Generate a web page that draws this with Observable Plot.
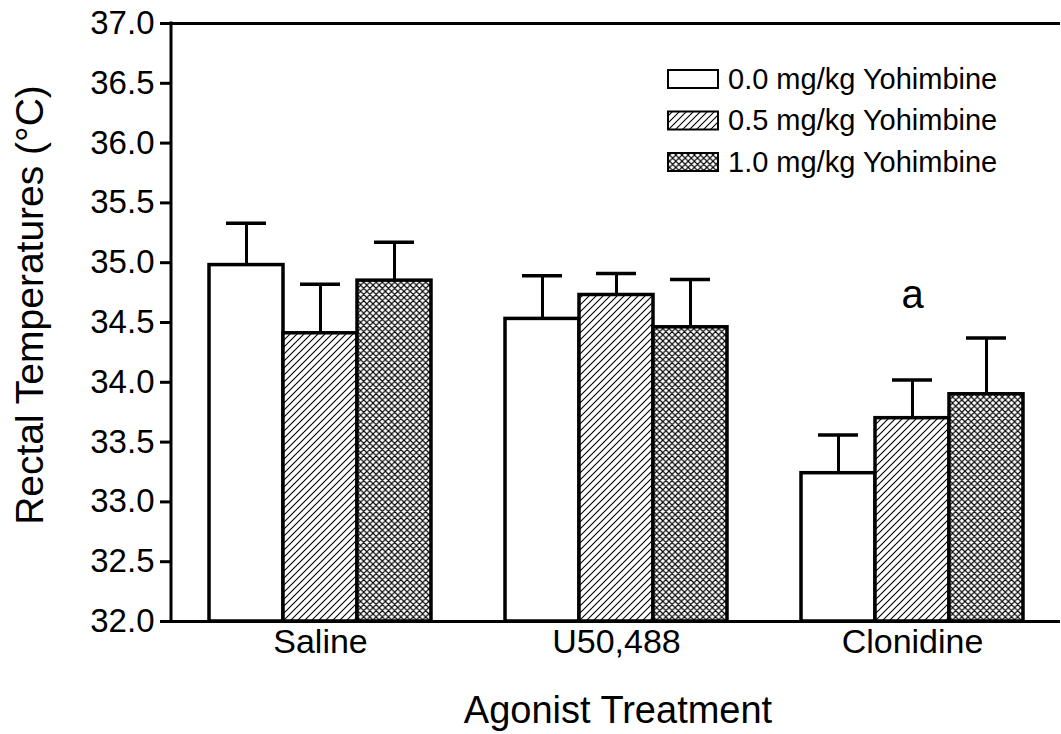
<!DOCTYPE html>
<html>
<head>
<meta charset="utf-8">
<script src="https://cdn.jsdelivr.net/npm/d3@7"></script>
<script src="https://cdn.jsdelivr.net/npm/@observablehq/plot@0.6"></script>
<style>
  html, body { margin: 0; padding: 0; background: white; }
  #chart svg text { fill: black; }
  g[aria-label="y-axis tick"], g[aria-label="y-axis tick"] path { stroke-width: 3px; }
  g[aria-label="fx-axis tick label"] { font-size: 34px; }
</style>
</head>
<body>
<div id="chart"></div>
<script>
// ---- data ----
const agonists = ["Saline", "U50,488", "Clonidine"];
const doses = ["0.0", "0.5", "1.0"];
const doseLabels = ["0.0 mg/kg Yohimbine", "0.5 mg/kg Yohimbine", "1.0 mg/kg Yohimbine"];
const salineMeans    = [34.98, 34.41, 34.85];
const u50488Means    = [34.53, 34.73, 34.46];
const clonidineMeans = [33.24, 33.70, 33.90];
const salineSE    = [0.35, 0.41, 0.32];
const u50488SE    = [0.36, 0.18, 0.40];
const clonidineSE = [0.32, 0.32, 0.47];
const yTicks = [32.0, 32.5, 33.0, 33.5, 34.0, 34.5, 35.0, 35.5, 36.0, 36.5, 37.0];
const significance = [{agonist: "Clonidine", y: 34.73, label: "a"}];

const meansByAgonist = [salineMeans, u50488Means, clonidineMeans];
const seByAgonist = [salineSE, u50488SE, clonidineSE];
const table = [];
agonists.forEach((a, i) => doses.forEach((d, j) => {
  table.push({agonist: a, dose: d, mean: meansByAgonist[i][j], se: seByAgonist[i][j]});
}));

const fills = ["white", "url(#diagHatch)", "url(#crossHatch)"];

const W = 1061, H = 734;
const plot = Plot.plot({
  width: W,
  height: H,
  marginLeft: 171,
  marginRight: 0,
  marginTop: 23,
  marginBottom: 113,
  style: {fontSize: "33px", fontFamily: "'Liberation Sans', Arial, sans-serif", background: "white", overflow: "visible", color: "black"},
  fx: {domain: agonists, padding: 0, tickSize: 0, tickPadding: 7, label: null},
  x: {domain: doses, axis: null, paddingInner: 0, paddingOuter: 0.486},
  y: {domain: [32, 37], ticks: yTicks, tickFormat: d => d.toFixed(1), tickSize: 12, tickPadding: 6, label: null},
  color: {type: "ordinal", domain: doses, range: fills, legend: false},
  marks: [
    Plot.ruleY([32, 37], {stroke: "black", strokeWidth: 3}),
    Plot.barY(table, {fx: "agonist", x: "dose", y1: 32, y2: "mean", fill: "dose", stroke: "black", strokeWidth: 3.5}),
    Plot.ruleX(table, {fx: "agonist", x: "dose", y1: "mean", y2: d => d.mean + d.se, stroke: "black", strokeWidth: 3}),
    Plot.tickY(table, {fx: "agonist", x: "dose", y: d => d.mean + d.se, stroke: "black", strokeWidth: 3.5, insetLeft: 17, insetRight: 17}),
    Plot.text(significance, {fx: "agonist", y: "y", text: "label", fontSize: 40, frameAnchor: "middle", fill: "black"})
  ]
});
document.getElementById("chart").appendChild(plot);

const svg = d3.select(plot);
// thicker y-axis ticks
svg.selectAll('g[aria-label="y-axis tick"]').attr("stroke-width", 3)
  .selectAll("path").attr("stroke-width", 3);

// patterns
const defs = svg.insert("defs", ":first-child");
const diag = defs.append("pattern").attr("id", "diagHatch").attr("patternUnits", "userSpaceOnUse")
  .attr("width", 7).attr("height", 7);
diag.append("rect").attr("width", 7).attr("height", 7).attr("fill", "white");
diag.append("path").attr("d", "M-1,1 L1,-1 M0,7 L7,0 M6,8 L8,6").attr("stroke", "black").attr("stroke-width", 1.1);
const cross = defs.append("pattern").attr("id", "crossHatch").attr("patternUnits", "userSpaceOnUse")
  .attr("width", 6.2).attr("height", 6.2);
cross.append("rect").attr("width", 6.2).attr("height", 6.2).attr("fill", "white");
cross.append("path").attr("d", "M-1,1 L1,-1 M0,6.2 L6.2,0 M5.2,7.2 L7.2,5.2 M-1,5.2 L1,7.2 M0,0 L6.2,6.2 M5.2,-1 L7.2,1")
  .attr("stroke", "black").attr("stroke-width", 1.1);

// left axis line using the y scale
const y = plot.scale("y");
svg.append("line").attr("x1", 171).attr("x2", 171)
  .attr("y1", y.apply(37) - 1.5).attr("y2", y.apply(32) + 1.5)
  .attr("stroke", "black").attr("stroke-width", 3);

// axis titles
const font = "'Liberation Sans', Arial, sans-serif";
svg.append("text").attr("transform", "translate(43,305) rotate(-90)")
  .attr("text-anchor", "middle").attr("font-size", 39).attr("font-family", font).attr("fill", "black")
  .text("Rectal Temperatures (°C)");
svg.append("text").attr("x", 618).attr("y", 723)
  .attr("text-anchor", "middle").attr("font-size", 38).attr("font-family", font).attr("fill", "black")
  .text("Agonist Treatment");

// legend
const lg = svg.append("g").attr("text-anchor", "start");
doseLabels.forEach((lab, i) => {
  const top = 70 + i * 41.5;
  lg.append("rect").attr("x", 668).attr("y", top).attr("width", 50).attr("height", 18)
    .attr("fill", fills[i]).attr("stroke", "black").attr("stroke-width", 2);
  lg.append("text").attr("x", 728).attr("y", top + 18.5).attr("font-size", 29).attr("font-family", font)
    .attr("text-anchor", "start").attr("fill", "black").text(lab);
});
</script>
</body>
</html>
